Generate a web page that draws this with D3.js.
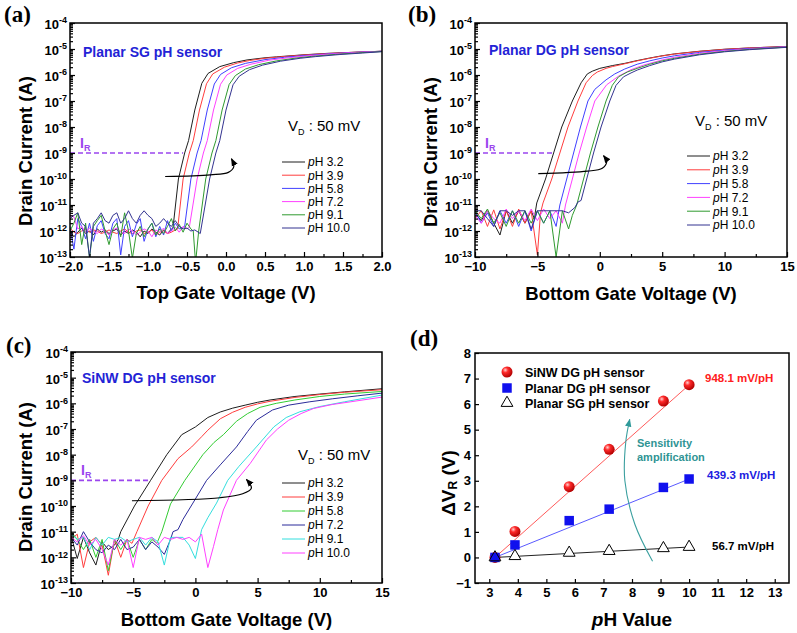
<!DOCTYPE html>
<html><head><meta charset="utf-8">
<script src="https://cdn.jsdelivr.net/npm/d3@7"></script>
<style>body{margin:0;background:#fff}svg{display:block}</style>
</head><body><svg id="chart" width="797" height="633"></svg>
<script>
// ---------------- DATA ----------------
const pHLabels = ["3.2", "3.9", "5.8", "7.2", "9.1", "10.0"];
const colorsAB = ["#1e1e1e", "#ff3d3d", "#4040ff", "#ff40ff", "#2f9a2f", "#333390"];
const colorsC = ["#1e1e1e", "#ff3d3d", "#33cc33", "#2b2b9a", "#33dede", "#ff40ff"];

// Panel (a): Planar SG, [top gate voltage (V), drain current (A)]
const a_pH32 = [[-2.0,1.0e-12],[-1.95,6e-13],[-1.9,9e-13],[-1.85,1.3e-12],[-1.8,8e-13],[-1.75,1.0e-12],[-1.7,7e-13],[-1.65,1.2e-12],[-1.6,9e-13],[-1.55,1.1e-12],[-1.5,8e-13],[-1.45,1.0e-12],[-1.4,1.2e-12],[-1.35,7e-13],[-1.3,1.0e-12],[-1.25,8e-13],[-1.2,1.1e-12],[-1.15,9e-13],[-1.1,6e-13],[-1.05,1.0e-12],[-1.0,8e-13],[-0.95,1.2e-12],[-0.9,9e-13],[-0.85,7e-13],[-0.8,1.1e-12],[-0.75,8e-13],[-0.7,1.2e-12],[-0.68,1.3e-12],[-0.61,1e-10],[-0.53,1e-9],[-0.48,3e-9],[-0.40,4.5e-8],[-0.31,4.8e-7],[-0.23,1.15e-6],[-0.08,2.1e-6],[0.1,3e-6],[0.27,3.8e-6],[0.5,4.6e-6],[0.65,5.0e-6],[1.0,6.0e-6],[1.3,6.8e-6],[1.6,7.4e-6],[2.0,8.2e-6]];
const a_pH39 = [[-2.0,1.3e-12],[-1.95,9e-13],[-1.9,8e-13],[-1.85,1.0e-12],[-1.8,1.2e-12],[-1.75,9e-13],[-1.7,1.1e-12],[-1.65,1.0e-12],[-1.6,8e-13],[-1.55,9e-13],[-1.5,1.1e-12],[-1.45,9e-13],[-1.4,8e-13],[-1.35,1.0e-12],[-1.3,1.2e-12],[-1.25,9e-13],[-1.2,8e-13],[-1.15,1.0e-12],[-1.1,1.1e-12],[-1.05,8e-13],[-1.0,9e-13],[-0.95,1.1e-12],[-0.9,7e-13],[-0.85,9e-13],[-0.8,1.0e-12],[-0.75,8e-13],[-0.7,9e-13],[-0.65,1.1e-12],[-0.62,1.2e-12],[-0.55,1e-10],[-0.47,1e-9],[-0.42,3e-9],[-0.34,4.5e-8],[-0.25,4.6e-7],[-0.17,1.1e-6],[-0.02,2e-6],[0.15,2.9e-6],[0.3,3.6e-6],[0.5,4.4e-6],[0.7,5.0e-6],[1.0,5.9e-6],[1.3,6.7e-6],[1.6,7.4e-6],[2.0,8.2e-6]];
const a_pH58 = [[-2.0,1.5e-12],[-1.95,2e-13],[-1.9,3e-12],[-1.85,1.5e-12],[-1.8,5e-13],[-1.75,2e-12],[-1.7,4e-13],[-1.65,1.6e-12],[-1.6,2.5e-12],[-1.55,8e-13],[-1.5,5e-13],[-1.45,2e-12],[-1.4,3e-12],[-1.35,1.2e-13],[-1.3,1.5e-12],[-1.25,2.5e-12],[-1.2,6e-13],[-1.15,1.8e-12],[-1.1,3e-12],[-1.05,4e-13],[-1.0,1.2e-12],[-0.95,2e-12],[-0.9,6e-13],[-0.85,1.5e-12],[-0.8,7e-13],[-0.75,2.5e-12],[-0.7,1e-12],[-0.65,2e-12],[-0.6,1.2e-12],[-0.53,1.5e-12],[-0.45,1e-10],[-0.37,1e-9],[-0.32,3e-9],[-0.24,4.5e-8],[-0.15,4.5e-7],[-0.07,1.05e-6],[0.07,1.9e-6],[0.25,2.8e-6],[0.5,3.9e-6],[0.75,4.8e-6],[1.0,5.6e-6],[1.3,6.5e-6],[1.6,7.3e-6],[2.0,8.2e-6]];
const a_pH72 = [[-2.0,4e-12],[-1.95,3.5e-12],[-1.9,1.2e-12],[-1.85,1.5e-12],[-1.8,9e-13],[-1.75,1.3e-12],[-1.7,1.0e-12],[-1.65,8e-13],[-1.6,1.2e-12],[-1.55,1.0e-12],[-1.5,7e-13],[-1.45,1.1e-12],[-1.4,1.3e-12],[-1.35,9e-13],[-1.3,8e-13],[-1.25,1.2e-12],[-1.2,1.0e-12],[-1.15,7e-13],[-1.1,9e-13],[-1.05,1.2e-12],[-1.0,1.0e-12],[-0.95,6e-13],[-0.9,1.1e-12],[-0.85,9e-13],[-0.8,1.3e-12],[-0.75,8e-13],[-0.7,1.0e-12],[-0.65,1.4e-12],[-0.6,9e-13],[-0.55,1.5e-12],[-0.5,1.2e-12],[-0.47,1.4e-12],[-0.37,1e-10],[-0.29,1e-9],[-0.24,3e-9],[-0.16,4.5e-8],[-0.07,4.4e-7],[0.01,1e-6],[0.15,1.8e-6],[0.32,2.6e-6],[0.55,3.7e-6],[0.8,4.6e-6],[1.0,5.3e-6],[1.3,6.3e-6],[1.6,7.2e-6],[2.0,8.1e-6]];
const a_pH91 = [[-2.0,1.0e-12],[-1.95,2e-12],[-1.9,5e-12],[-1.85,3e-13],[-1.8,2e-12],[-1.75,9e-14],[-1.7,1.5e-12],[-1.65,2.5e-12],[-1.6,4e-12],[-1.55,1e-12],[-1.5,3e-13],[-1.45,1.2e-12],[-1.4,2e-12],[-1.35,6e-13],[-1.3,5e-12],[-1.25,1e-12],[-1.2,9e-14],[-1.15,8e-13],[-1.1,1.5e-12],[-1.05,6e-13],[-1.0,1.2e-12],[-0.95,2e-12],[-0.9,7e-13],[-0.85,1.2e-12],[-0.8,8e-13],[-0.75,1.5e-12],[-0.7,3e-12],[-0.65,1e-12],[-0.6,1.8e-12],[-0.55,9e-13],[-0.5,2e-12],[-0.45,1.2e-12],[-0.42,1e-12],[-0.39,6e-14],[-0.35,1e-12],[-0.26,1e-10],[-0.18,1e-9],[-0.13,3e-9],[-0.05,4.5e-8],[0.04,4.3e-7],[0.12,9.5e-7],[0.25,1.7e-6],[0.42,2.5e-6],[0.65,3.5e-6],[0.9,4.5e-6],[1.1,5.2e-6],[1.4,6.2e-6],[1.7,7.1e-6],[2.0,8.0e-6]];
const a_pH100 = [[-2.0,3e-12],[-1.95,4e-12],[-1.9,5e-12],[-1.85,2e-12],[-1.8,1.5e-12],[-1.75,1e-13],[-1.7,2e-12],[-1.65,3e-12],[-1.6,5e-12],[-1.55,2.5e-12],[-1.5,2e-12],[-1.45,4e-12],[-1.4,5e-12],[-1.35,2e-12],[-1.3,3e-12],[-1.25,6e-12],[-1.2,3e-12],[-1.15,2e-12],[-1.1,4e-12],[-1.05,6e-12],[-1.0,4e-12],[-0.95,3e-12],[-0.9,1.5e-12],[-0.85,2e-12],[-0.8,3e-12],[-0.75,2e-12],[-0.7,1.5e-12],[-0.65,2.5e-12],[-0.6,1.5e-12],[-0.55,1.2e-12],[-0.5,1.3e-12],[-0.45,1.0e-12],[-0.4,1.1e-12],[-0.33,8e-13],[-0.21,1e-10],[-0.13,1e-9],[-0.08,3e-9],[0.0,4.5e-8],[0.09,4.2e-7],[0.17,9e-7],[0.3,1.6e-6],[0.47,2.4e-6],[0.7,3.4e-6],[0.95,4.4e-6],[1.15,5.1e-6],[1.45,6.1e-6],[1.75,7.0e-6],[2.0,7.9e-6]];

// Panel (b): Planar DG, [bottom gate voltage (V), drain current (A)]
const b_pH32 = [[-10,5e-12],[-9.5,2.5e-12],[-9,6e-12],[-8.5,2e-12],[-8,7e-13],[-7.5,6e-12],[-7,2e-12],[-6.5,6e-12],[-6,2e-12],[-5.5,6e-12],[-5.25,3e-12],[-5.05,1.2e-11],[-4.35,1e-10],[-3.7,1e-9],[-3.05,1e-8],[-2.2,1e-7],[-1.5,5e-7],[-1.0,1.1e-6],[-0.6,1.4e-6],[0,1.8e-6],[1,2.3e-6],[2,2.8e-6],[3,3.6e-6],[4,4.5e-6],[5,5.5e-6],[6,6.5e-6],[8,8.2e-6],[10,9.8e-6],[12,1.1e-5],[15,1.25e-5]];
const b_pH39 = [[-10,3e-12],[-9.5,6e-12],[-9,1.5e-12],[-8.5,6.5e-12],[-8,1.2e-12],[-7.5,6e-12],[-7,1.5e-12],[-6.5,7e-12],[-6,2e-12],[-5.5,6e-12],[-5.0,1.2e-13],[-4.75,5e-12],[-4.55,1.2e-11],[-3.85,1e-10],[-3.2,1e-9],[-2.55,1e-8],[-1.75,1e-7],[-1.1,5e-7],[-0.6,9.5e-7],[-0.2,1.3e-6],[0.5,1.8e-6],[1,2.1e-6],[2,2.7e-6],[3,3.5e-6],[4,4.4e-6],[5,5.4e-6],[6,6.4e-6],[8,8.1e-6],[10,9.7e-6],[12,1.1e-5],[15,1.25e-5]];
const b_pH58 = [[-10,6e-12],[-9.5,2e-12],[-9,5e-12],[-8.5,1.5e-12],[-8,6e-12],[-7.5,2e-12],[-7,6e-12],[-6.5,1.5e-12],[-6,6e-12],[-5.5,1e-12],[-5,6e-12],[-4.5,2e-12],[-4,6e-12],[-3.5,1.5e-12],[-3.2,1e-11],[-2.65,1e-10],[-2.1,1e-9],[-1.55,1e-8],[-0.95,1e-7],[-0.4,2.8e-7],[0.5,6.5e-7],[1.2,1.1e-6],[2,1.7e-6],[3,2.6e-6],[4,3.5e-6],[5,4.5e-6],[6,5.5e-6],[8,7.4e-6],[10,9.1e-6],[12,1.05e-5],[15,1.22e-5]];
const b_pH72 = [[-10,4e-12],[-9.5,2e-12],[-9,6e-12],[-8.5,3e-12],[-8,2e-12],[-7.5,7e-12],[-7,3e-12],[-6.5,6e-12],[-6,2.5e-12],[-5.5,7e-12],[-5,2.5e-12],[-4.5,7e-12],[-4,3e-12],[-3.5,6e-12],[-3,2e-12],[-2.75,1e-11],[-2.2,1e-10],[-1.65,1e-9],[-1.05,1e-8],[-0.4,1e-7],[0.55,4.2e-7],[1.5,9e-7],[2.5,1.6e-6],[3.5,2.4e-6],[5,3.8e-6],[6,4.8e-6],[8,6.8e-6],[10,8.6e-6],[12,1.0e-5],[15,1.2e-5]];
const b_pH91 = [[-10,6e-12],[-9.5,3e-12],[-9,7e-12],[-8.5,2e-12],[-8,5e-12],[-7.5,1.5e-12],[-7,6e-12],[-6.5,2e-12],[-6,6e-12],[-5.5,2e-12],[-5,6e-12],[-4.5,2e-12],[-4,6e-12],[-3.5,1e-13],[-3,6e-12],[-2.5,1.2e-12],[-2.2,4e-12],[-1.85,1e-11],[-1.3,1e-10],[-0.75,1e-9],[-0.15,1e-8],[0.5,1e-7],[1.0,4e-7],[1.5,8.5e-7],[2.2,1.3e-6],[3,1.8e-6],[4,2.6e-6],[5,3.5e-6],[6,4.4e-6],[8,6.3e-6],[10,8.1e-6],[12,9.7e-6],[15,1.18e-5]];
const b_pH100 = [[-10,6e-12],[-9.5,6e-12],[-9,3e-12],[-8.5,1.5e-12],[-8,6e-12],[-7.5,6e-12],[-7,4e-12],[-6.5,6e-12],[-6,6e-12],[-5.5,1.2e-12],[-5,6e-12],[-4.5,6e-12],[-4,6e-12],[-3.5,6e-12],[-3,6e-12],[-2.5,5e-12],[-2.0,8e-12],[-1.75,1.3e-11],[-1.5,1.5e-11],[-1.05,1e-10],[-0.5,1e-9],[0.1,1e-8],[0.8,1e-7],[1.3,4e-7],[1.9,8.5e-7],[2.5,1.2e-6],[3,1.55e-6],[4,2.3e-6],[5,3.2e-6],[6,4.1e-6],[8,6.0e-6],[10,7.8e-6],[12,9.4e-6],[15,1.16e-5]];

// Panel (c): SiNW DG, [bottom gate voltage (V), drain current (A)]
const c_pH32 = [[-10,7e-12],[-9.5,9e-13],[-9,6e-12],[-8.5,1.5e-12],[-8,5e-13],[-7.5,4e-12],[-7,2e-12],[-6.5,3e-12],[-6.2,5e-12],[-6.0,1e-11],[-4.9,1e-10],[-3.6,1e-9],[-2.3,1e-8],[-1.1,6e-8],[0,1.2e-7],[1,2.8e-7],[2,4.6e-7],[3,6.5e-7],[4,8.5e-7],[5,1.1e-6],[6,1.35e-6],[8,1.85e-6],[10,2.3e-6],[12,2.8e-6],[15,3.7e-6]];
const c_pH39 = [[-10,5e-12],[-9.5,8e-12],[-9,4e-13],[-8.5,4e-12],[-8,6e-12],[-7.5,3e-12],[-7,2e-13],[-6.5,5e-12],[-6,1e-12],[-5.5,5e-12],[-5.1,3.5e-12],[-4.7,1e-11],[-3.8,1e-10],[-2.7,1e-9],[-1.4,7e-9],[-0.3,2e-8],[0.5,5e-8],[1,9e-8],[2,2.5e-7],[3,4.5e-7],[4,7e-7],[5,9.5e-7],[6,1.2e-6],[8,1.7e-6],[10,2.2e-6],[12,2.7e-6],[15,3.4e-6]];
const c_pH58 = [[-10,1e-11],[-9.5,5e-12],[-9,2e-12],[-8.5,5e-12],[-8,1e-12],[-7.5,5e-12],[-7,3e-13],[-6.5,5e-12],[-6,2e-12],[-5.5,5e-12],[-5,1e-12],[-4.5,5e-12],[-4,2e-12],[-3.5,5e-12],[-3.1,3.5e-12],[-2.7,1e-11],[-2.0,1.2e-10],[-0.85,1e-9],[0.6,1e-8],[1.5,3e-8],[2.25,6e-8],[3.3,2e-7],[4.2,4e-7],[5.2,7e-7],[6.5,1.0e-6],[8,1.35e-6],[10,1.85e-6],[12,2.3e-6],[15,2.9e-6]];
const c_pH72 = [[-10,6e-12],[-9.5,3e-12],[-9,1e-11],[-8.5,4e-12],[-8,2e-12],[-7.5,1.5e-12],[-7,3e-12],[-6.5,2e-12],[-6,5e-12],[-5.5,2e-12],[-5,2.5e-12],[-4.5,5e-12],[-4,2e-12],[-3.5,4e-12],[-3,2.5e-12],[-2.5,1.3e-12],[-2,5e-12],[-1.8,1e-11],[-1.4,1.2e-11],[-1.0,3e-11],[-0.2,1.3e-10],[0.9,1e-9],[2.0,4e-9],[3.3,2e-8],[4.2,8e-8],[4.9,2.2e-7],[6.2,5.5e-7],[7.5,8.5e-7],[9.2,1.15e-6],[11,1.5e-6],[13,1.95e-6],[15,2.5e-6]];
const c_pH91 = [[-10,8e-12],[-9.5,5e-12],[-9,6e-12],[-8.5,2e-12],[-8,6e-12],[-7.5,3e-12],[-7,6e-12],[-6.5,5e-12],[-6,6e-12],[-5.5,4e-12],[-5,5e-12],[-4.5,6e-12],[-4,3e-12],[-3.5,6e-12],[-3,4e-12],[-2.5,5e-13],[-2,6e-12],[-1.5,6e-12],[-1,6e-12],[-0.5,3e-12],[0,9e-13],[0.5,1.2e-11],[1.0,3.5e-11],[1.7,1.3e-10],[2.6,1e-9],[3.5,3.5e-9],[4.9,2e-8],[6.3,1.2e-7],[7.3,2.8e-7],[8.4,4.7e-7],[10,7.5e-7],[12,1.15e-6],[15,2.1e-6]];
const c_pH100 = [[-10,6e-12],[-9.5,4e-12],[-9,7e-12],[-8.5,3e-12],[-8,5e-12],[-7.5,2e-12],[-7,5e-13],[-6.5,5e-12],[-6,3e-12],[-5.5,5e-12],[-5,4e-13],[-4.5,6e-12],[-4,5e-12],[-3.5,6e-12],[-3,3e-12],[-2.5,6e-12],[-2,5e-12],[-1.5,6e-12],[-1,5e-12],[-0.5,6e-12],[0,4e-12],[0.5,8e-12],[1.0,4e-13],[1.45,2.6e-12],[1.8,1.2e-11],[2.25,7e-11],[3.3,1e-9],[4.4,4.5e-9],[5.7,3.7e-8],[6.6,1.0e-7],[7.5,2.2e-7],[8.5,4e-7],[9.5,6.3e-7],[11,9e-7],[12.5,1.15e-6],[15,1.75e-6]];

// Annotation arrows (data coordinates)
const arrowA = [[-0.78,1.25e-10],[-0.2,1.45e-10],[0.03,1.8e-10],[0.1,3e-10],[0.07,6e-10]];
const arrowB = [[-4.93,1.6e-10],[-1.0,2.0e-10],[0.2,2.6e-10],[0.55,4.5e-10],[0.3,8e-10]];
const arrowC = [[-5.1,1.6e-10],[2.0,2.1e-10],[3.8,3e-10],[4.5,5e-10],[4.1,1.1e-9]];
const refCurrent = 1e-9;
const irEndA = -0.55, irEndB = -3.72, irEndC = -3.62;

// Ticks
const ticksA = [-2.0,-1.5,-1.0,-0.5,0.0,0.5,1.0,1.5,2.0];
const minorA = [-1.75,-1.25,-0.75,-0.25,0.25,0.75,1.25,1.75];
const ticksBC = [-10,-5,0,5,10,15];
const minorBC = [-7.5,-2.5,2.5,7.5,12.5];

// Panel (d)
const pHValues = [3.2, 3.9, 5.8, 7.2, 9.1, 10.0];
const dvSiNW = [0, 1.02, 2.77, 4.23, 6.12, 6.76];
const dvPlanarDG = [0, 0.49, 1.44, 1.89, 2.74, 3.07];
const dvPlanarSG = [0, 0.05, 0.18, 0.25, 0.36, 0.41];
const fitSiNW = [[3.2, 0.0], [10.05, 6.8]];
const fitDG = [[3.2, 0.0], [10.05, 3.09]];
const fitSG = [[3.2, 0.0], [10.05, 0.41]];
const sensLabels = ["948.1 mV/pH", "439.3 mV/pH", "56.7 mV/pH"];
const sensArc = [[8.72,-0.15],[8.1,1.3],[7.75,3.0],[7.78,4.5],[7.92,5.4]];
const ticksDX = [3,4,5,6,7,8,9,10,11,12,13];
const ticksDY = [-1,0,1,2,3,4,5,6,7,8];

// ---------------- DRAWING ----------------
const FONT = "'Liberation Sans', Arial, Helvetica, sans-serif";
const SERIF = "'Liberation Serif', 'Times New Roman', serif";
const svg = d3.select("#chart").attr("font-family", FONT);
const defs = svg.append("defs");

function marker(id, color, size) {
  defs.append("marker").attr("id", id).attr("viewBox", "0 0 10 10")
    .attr("refX", 9).attr("refY", 5).attr("markerUnits", "userSpaceOnUse")
    .attr("markerWidth", size).attr("markerHeight", size).attr("orient", "auto")
    .append("path").attr("d", "M0,1 L10,5 L0,9 Z").attr("fill", color);
}
marker("arrBlack", "#000", 8);
marker("arrTeal", "#2f9a9a", 8);

const grad = defs.append("radialGradient").attr("id", "sphere").attr("cx", "35%").attr("cy", "32%").attr("r", "70%");
grad.append("stop").attr("offset", "0%").attr("stop-color", "#ffd0d0");
grad.append("stop").attr("offset", "35%").attr("stop-color", "#ff2a2a");
grad.append("stop").attr("offset", "100%").attr("stop-color", "#b00000");

function styleAxis(sel, size) {
  sel.attr("font-family", FONT).attr("font-size", size).attr("font-weight", "bold");
  sel.select(".domain").remove();
  sel.selectAll("line").attr("stroke", "#000").attr("stroke-width", 1.2);
  sel.selectAll("text").attr("fill", "#000");
}

function panelLabel(txt, x, y) {
  svg.append("text").attr("x", x).attr("y", y).attr("font-family", SERIF)
    .attr("font-weight", "bold").attr("font-size", 23).text(txt);
}

function logPanel(cfg) {
  const b = cfg.box;
  const x = d3.scaleLinear().domain(cfg.xDomain).range([b.left, b.right]);
  const y = d3.scaleLog().domain([1e-13, 1e-4]).range([b.bottom, b.top]);
  const g = svg.append("g");
  const clipId = "clip" + cfg.id;
  defs.append("clipPath").attr("id", clipId).append("rect")
    .attr("x", b.left).attr("y", b.top).attr("width", b.right - b.left).attr("height", b.bottom - b.top);

  const line = d3.line().x(d => x(d[0])).y(d => y(d[1]));
  const lg = g.append("g").attr("clip-path", `url(#${clipId})`);
  cfg.series.forEach((s, i) => {
    lg.append("path").attr("d", line(s)).attr("fill", "none")
      .attr("stroke", cfg.colors[i]).attr("stroke-width", 1).attr("stroke-linejoin", "round");
  });

  // I_R dashed reference line
  g.append("line").attr("x1", x(cfg.xDomain[0])).attr("x2", x(cfg.irEnd))
    .attr("y1", y(refCurrent)).attr("y2", y(refCurrent))
    .attr("stroke", "#9b45ee").attr("stroke-width", 1.6).attr("stroke-dasharray", "5,3");
  const ir = g.append("text").attr("x", x(cfg.xDomain[0]) + 10).attr("y", y(refCurrent) - 5)
    .attr("fill", "#9b45ee").attr("font-weight", "bold").attr("font-size", 14).text("I");
  ir.append("tspan").attr("font-size", 9).attr("dy", 3).text("R");

  // arrow
  g.append("path").attr("d", d3.line().curve(d3.curveCatmullRom).x(d => x(d[0])).y(d => y(d[1]))(cfg.arrow))
    .attr("fill", "none").attr("stroke", "#000").attr("stroke-width", 1.2).attr("marker-end", "url(#arrBlack)");

  // axes
  const xa = g.append("g").attr("transform", `translate(0,${b.bottom})`)
    .call(d3.axisBottom(x).tickValues(cfg.xTicks).tickSizeInner(-5).tickSizeOuter(0).tickPadding(5).tickFormat(cfg.xFmt));
  styleAxis(xa, 13);
  const xm = g.append("g").attr("transform", `translate(0,${b.bottom})`)
    .call(d3.axisBottom(x).tickValues(cfg.xMinor).tickSizeInner(-3).tickSizeOuter(0).tickFormat(""));
  styleAxis(xm, 13);

  const decades = d3.range(-13, -3).map(e => Math.pow(10, e));
  const minors = [];
  d3.range(-13, -4).forEach(e => { for (let k = 2; k <= 9; k++) minors.push(k * Math.pow(10, e)); });
  const ya = g.append("g").attr("transform", `translate(${b.left},0)`)
    .call(d3.axisLeft(y).tickValues(decades).tickSizeInner(-5).tickSizeOuter(0).tickPadding(3).tickFormat(() => ""));
  styleAxis(ya, 13);
  ya.selectAll(".tick text").each(function(d) {
    const t = d3.select(this).attr("dy", "0.42em");
    t.text("10");
    t.append("tspan").attr("dy", "-0.62em").attr("font-size", 9).text(String(Math.round(Math.log10(d))));
  });
  const ym = g.append("g").attr("transform", `translate(${b.left},0)`)
    .call(d3.axisLeft(y).tickValues(minors).tickSizeInner(-3).tickSizeOuter(0).tickFormat(""));
  styleAxis(ym, 13);

  // frame
  g.append("rect").attr("x", b.left).attr("y", b.top).attr("width", b.right - b.left).attr("height", b.bottom - b.top)
    .attr("fill", "none").attr("stroke", "#000").attr("stroke-width", 1.5);

  // titles
  g.append("text").attr("x", (b.left + b.right) / 2).attr("y", cfg.xTitleY).attr("text-anchor", "middle")
    .attr("font-weight", "bold").attr("font-size", 18.5).text(cfg.xTitle);
  g.append("text").attr("transform", `translate(${cfg.yTitleX},${cfg.yTitleCY}) rotate(-90)`)
    .attr("text-anchor", "middle").attr("dominant-baseline", "central")
    .attr("font-weight", "bold").attr("font-size", 18.5).text("Drain Current (A)");
  g.append("text").attr("x", cfg.nameX).attr("y", cfg.nameY).attr("fill", "#2323d6")
    .attr("font-weight", "bold").attr("font-size", 14).text(cfg.name);
  const vd = g.append("text").attr("x", cfg.vdX).attr("y", cfg.vdY).attr("font-size", 15).text("V");
  vd.append("tspan").attr("font-size", 9).attr("dy", 4).text("D");
  vd.append("tspan").attr("dy", -4).text(" : 50 mV");

  // legend
  pHLabels.forEach((lab, i) => {
    const yy = cfg.legY + i * cfg.legStep;
    g.append("line").attr("x1", cfg.legX).attr("x2", cfg.legX + 23).attr("y1", yy).attr("y2", yy)
      .attr("stroke", cfg.colors[i]).attr("stroke-width", 1);
    const t = g.append("text").attr("x", cfg.legX + 26).attr("y", yy + 4.3).attr("font-size", 12);
    t.append("tspan").attr("font-style", "italic").text("p");
    t.append("tspan").text("H " + lab);
  });
}

// Panel (a)
logPanel({
  id: "a", box: {left: 70, right: 382, top: 23, bottom: 257}, xDomain: [-2, 2],
  xTicks: ticksA, xMinor: minorA, xFmt: d3.format(".1f"),
  series: [a_pH32, a_pH39, a_pH58, a_pH72, a_pH91, a_pH100], colors: colorsAB,
  arrow: arrowA, irEnd: irEndA,
  xTitle: "Top Gate Voltage (V)", xTitleY: 299, yTitleX: 25, yTitleCY: 151,
  name: "Planar SG pH sensor", nameX: 83, nameY: 57, vdX: 288, vdY: 131,
  legX: 282, legY: 162, legStep: 13.2
});
// Panel (b)
logPanel({
  id: "b", box: {left: 475, right: 787, top: 23, bottom: 257}, xDomain: [-10, 15],
  xTicks: ticksBC, xMinor: minorBC, xFmt: d3.format("d"),
  series: [b_pH32, b_pH39, b_pH58, b_pH72, b_pH91, b_pH100], colors: colorsAB,
  arrow: arrowB, irEnd: irEndB,
  xTitle: "Bottom Gate Voltage (V)", xTitleY: 300, yTitleX: 430, yTitleCY: 152,
  name: "Planar DG pH sensor", nameX: 489, nameY: 55, vdX: 695, vdY: 126,
  legX: 687, legY: 156, legStep: 13.8
});
// Panel (c)
logPanel({
  id: "c", box: {left: 71, right: 382, top: 352, bottom: 583}, xDomain: [-10, 15],
  xTicks: ticksBC, xMinor: minorBC, xFmt: d3.format("d"),
  series: [c_pH32, c_pH39, c_pH58, c_pH72, c_pH91, c_pH100], colors: colorsC,
  arrow: arrowC, irEnd: irEndC,
  xTitle: "Bottom Gate Voltage (V)", xTitleY: 626, yTitleX: 25, yTitleCY: 477,
  name: "SiNW DG pH sensor", nameX: 82, nameY: 383, vdX: 298, vdY: 460,
  legX: 282, legY: 483, legStep: 14
});

panelLabel("(a)", 4, 22);
panelLabel("(b)", 408, 22);
panelLabel("(c)", 6, 353);
panelLabel("(d)", 410, 346);

// Panel (d)
(function() {
  const b = {left: 475, right: 789, top: 353, bottom: 583};
  const x = d3.scaleLinear().domain([2.5, 13.5]).range([b.left, b.right]);
  const y = d3.scaleLinear().domain([-1, 8]).range([b.bottom, b.top]);
  const g = svg.append("g");
  const line = d3.line().x(d => x(d[0])).y(d => y(d[1]));

  g.append("path").attr("d", line(fitSiNW)).attr("stroke", "#ff5a5a").attr("stroke-width", 1).attr("fill", "none");
  g.append("path").attr("d", line(fitDG)).attr("stroke", "#5a5aff").attr("stroke-width", 1).attr("fill", "none");
  g.append("path").attr("d", line(fitSG)).attr("stroke", "#222").attr("stroke-width", 1).attr("fill", "none");

  // sensitivity arc
  g.append("path").attr("d", d3.line().curve(d3.curveCatmullRom).x(d => x(d[0])).y(d => y(d[1]))(sensArc))
    .attr("fill", "none").attr("stroke", "#3a9f9f").attr("stroke-width", 1.1).attr("marker-end", "url(#arrTeal)");
  g.append("text").attr("x", 637).attr("y", 447).attr("fill", "#2f9494").attr("font-weight", "bold").attr("font-size", 11).text("Sensitivity");
  g.append("text").attr("x", 637).attr("y", 461).attr("fill", "#2f9494").attr("font-weight", "bold").attr("font-size", 11).text("amplification");

  const tri = d3.symbol().type(d3.symbolTriangle).size(60);
  const sq = d3.symbol().type(d3.symbolSquare).size(90);
  g.selectAll(".sph").data(pHValues).join("circle")
    .attr("cx", d => x(d)).attr("cy", (d, i) => y(dvSiNW[i])).attr("r", 5.5)
    .attr("fill", "url(#sphere)");
  g.selectAll(".sq").data(pHValues).join("path").attr("d", sq)
    .attr("transform", (d, i) => `translate(${x(d)},${y(dvPlanarDG[i])})`)
    .attr("fill", "#1010ee");
  g.selectAll(".tri").data(pHValues).join("path").attr("d", tri)
    .attr("transform", (d, i) => `translate(${x(d)},${y(dvPlanarSG[i])})`)
    .attr("fill", (d, i) => i === 0 ? "none" : "#fff").attr("stroke", "#000").attr("stroke-width", 1);

  // slope labels
  g.append("text").attr("x", 705).attr("y", 382).attr("fill", "#ff2020").attr("font-weight", "bold").attr("font-size", 11.5).text(sensLabels[0]);
  g.append("text").attr("x", 707).attr("y", 479).attr("fill", "#2020e0").attr("font-weight", "bold").attr("font-size", 11.5).text(sensLabels[1]);
  g.append("text").attr("x", 712).attr("y", 550).attr("fill", "#000").attr("font-weight", "bold").attr("font-size", 11.5).text(sensLabels[2]);

  // axes
  const xa = g.append("g").attr("transform", `translate(0,${b.bottom})`)
    .call(d3.axisBottom(x).tickValues(ticksDX).tickSizeInner(-4).tickSizeOuter(0).tickPadding(5).tickFormat(d3.format("d")));
  styleAxis(xa, 13);
  const ya = g.append("g").attr("transform", `translate(${b.left},0)`)
    .call(d3.axisLeft(y).tickValues(ticksDY).tickSizeInner(-4).tickSizeOuter(0).tickPadding(4).tickFormat(d3.format("d")));
  styleAxis(ya, 13);
  g.append("rect").attr("x", b.left).attr("y", b.top).attr("width", b.right - b.left).attr("height", b.bottom - b.top)
    .attr("fill", "none").attr("stroke", "#000").attr("stroke-width", 1.5);

  // titles
  const xt = g.append("text").attr("x", (b.left + b.right) / 2).attr("y", 626).attr("text-anchor", "middle")
    .attr("font-weight", "bold").attr("font-size", 19);
  xt.append("tspan").attr("font-style", "italic").text("p");
  xt.append("tspan").text("H Value");
  const yt = g.append("text").attr("transform", `translate(448,483) rotate(-90)`)
    .attr("text-anchor", "middle").attr("dominant-baseline", "central")
    .attr("font-weight", "bold").attr("font-size", 19);
  yt.append("tspan").text("\u0394V");
  yt.append("tspan").attr("font-size", 12).attr("dy", 5).text("R");
  yt.append("tspan").attr("dy", -5).text(" (V)");

  // legend
  const lx = 507, ly = [372, 388, 403];
  const names = ["SiNW DG pH sensor", "Planar DG pH sensor", "Planar SG pH sensor"];
  g.append("circle").attr("cx", lx).attr("cy", ly[0]).attr("r", 5.5).attr("fill", "url(#sphere)");
  g.append("path").attr("d", sq).attr("transform", `translate(${lx},${ly[1]})`).attr("fill", "#1010ee");
  g.append("path").attr("d", tri).attr("transform", `translate(${lx},${ly[2]})`).attr("fill", "#fff").attr("stroke", "#000");
  names.forEach((n, i) => g.append("text").attr("x", 525).attr("y", ly[i] + 4.5)
    .attr("font-weight", "bold").attr("font-size", 12.5).text(n));
})();
</script>
</body></html>
